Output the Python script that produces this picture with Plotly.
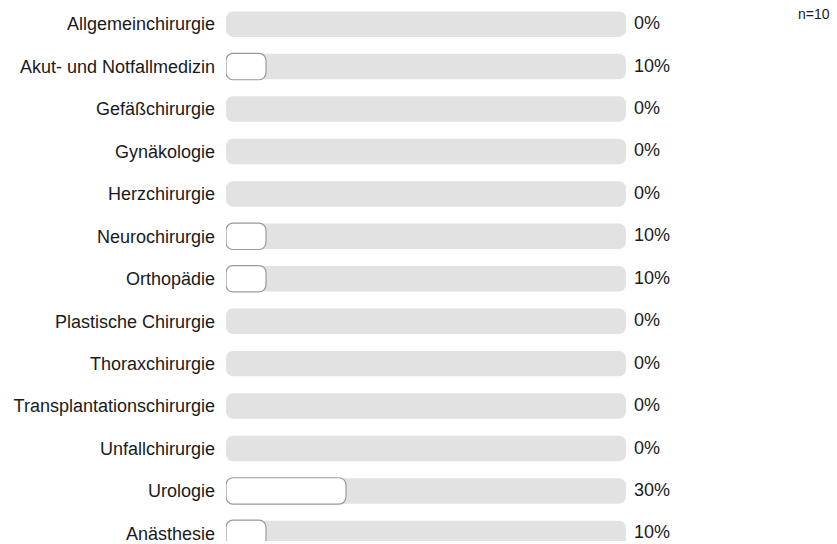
import plotly.graph_objects as go

categories = ["Allgemeinchirurgie", "Akut- und Notfallmedizin", "Gefäßchirurgie", "Gynäkologie",
              "Herzchirurgie", "Neurochirurgie", "Orthopädie", "Plastische Chirurgie",
              "Thoraxchirurgie", "Transplantationschirurgie", "Unfallchirurgie", "Urologie", "Anästhesie"]
values = [0, 10, 0, 0, 0, 10, 10, 0, 0, 0, 0, 30, 10]
full = [100] * len(categories)
n_label = "n=10"

FONT = "Liberation Sans, Arial, sans-serif"
R = 7

fig = go.Figure()
fig.add_trace(go.Bar(
    y=categories, x=full, base=[0] * len(full), orientation="h", width=0.6,
    marker=dict(color="#e2e2e2", line=dict(width=0), cornerradius=R),
    hoverinfo="skip", showlegend=False,
))
fig.add_trace(go.Bar(
    y=categories, x=[v if v > 0 else None for v in values], base=[0] * len(values),
    orientation="h", width=0.62,
    marker=dict(color="#ffffff", line=dict(color="#9a9a9a", width=1.2), cornerradius=R),
    hovertemplate="%{y}: %{x}%<extra></extra>", showlegend=False,
))

for c, v in zip(categories, values):
    fig.add_annotation(x=100, y=c, xref="x", yref="y", text=f"{v}%", showarrow=False,
                       xanchor="left", yanchor="middle", xshift=6, yshift=1,
                       font=dict(family=FONT, size=18, color="#1a1a1a"))

fig.add_annotation(x=1, y=1, xref="paper", yref="paper", text=n_label, showarrow=False,
                   xanchor="right", yanchor="top", xshift=206, yshift=-4,
                   font=dict(family=FONT, size=14, color="#1a1a1a"))

fig.update_layout(
    width=837, height=544,
    margin=dict(l=226, r=211, t=0, b=0),
    barmode="overlay",
    plot_bgcolor="white", paper_bgcolor="white",
    xaxis=dict(range=[0, 100], visible=False, fixedrange=True),
    yaxis=dict(range=[12.18, -0.5695], showgrid=False, zeroline=False, showline=False,
               ticks="", ticklabelstandoff=10, fixedrange=True,
               tickfont=dict(family=FONT, size=18, color="#1a1a1a")),
    font=dict(family=FONT),
)

fig.write_html("out.html", config={"displayModeBar": False},
               post_script="document.body.style.margin='0';document.body.style.overflow='hidden';")
